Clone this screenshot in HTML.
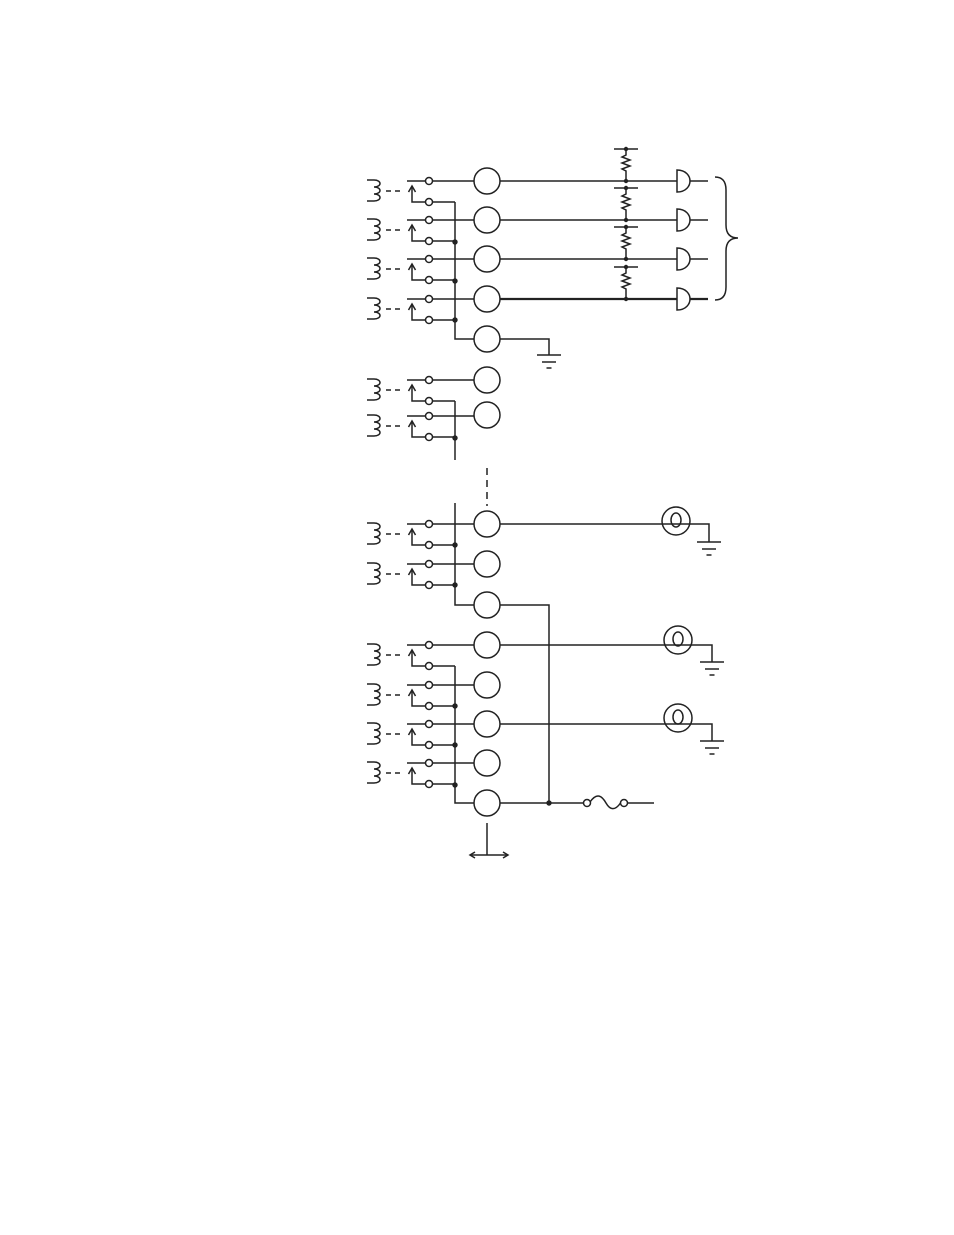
<!DOCTYPE html>
<html><head><meta charset="utf-8"><style>html,body{margin:0;padding:0;background:#fff}svg{display:block}</style></head>
<body>
<svg width="954" height="1235" viewBox="0 0 954 1235" xmlns="http://www.w3.org/2000/svg" fill="none" stroke="#222" stroke-width="1.5">
<defs>
<g id="r">
<path d="M367,-1 h7 c8,0 8,7 0,7 c8,0 8,7 0,7 c8,0 8,7 0,7 h-7"/>
<line x1="386" y1="10" x2="404" y2="10" stroke-dasharray="5,4"/>
<line x1="407" y1="0" x2="425.5" y2="0"/>
<circle cx="429" cy="0" r="3.5" fill="#fff"/>
<line x1="432.5" y1="0" x2="474" y2="0"/>
<path d="M412,5 V21 H425.5"/>
<path d="M408.5,11 L412,5 L415.5,11"/>
<circle cx="429" cy="21" r="3.5" fill="#fff"/>
<line x1="432.5" y1="21" x2="455" y2="21"/>
</g>
<g id="res"><line x1="614" y1="0" x2="638" y2="0"/><path d="M626,0 V6 l-4,2 l8,3 l-8,3 l8,3 l-8,3 l4,2 V32"/><circle cx="626" cy="0" r="2.2" fill="#222" stroke="none"/><circle cx="626" cy="32" r="2.2" fill="#222" stroke="none"/></g>
<path id="gate" d="M677,-11 V11 C686,11 690,5 690,0 C690,-5 686,-11 677,-11 Z"/>
<g id="lamp"><circle cx="0" cy="0" r="14"/><ellipse cx="0" cy="-1" rx="5" ry="7"/></g>
<g id="gnd"><line x1="-12" y1="0" x2="12" y2="0"/><line x1="-7" y1="7" x2="7" y2="7"/><line x1="-2.5" y1="13" x2="2.5" y2="13"/></g>
</defs>
<use href="#r" y="181"/><use href="#r" y="220"/><use href="#r" y="259"/><use href="#r" y="299"/>
<use href="#r" y="380"/><use href="#r" y="416"/>
<use href="#r" y="524"/><use href="#r" y="564"/>
<use href="#r" y="645"/><use href="#r" y="685"/><use href="#r" y="724"/><use href="#r" y="763"/>
<g fill="#fff">
<circle cx="487" cy="181" r="13"/><circle cx="487" cy="220" r="13"/><circle cx="487" cy="259" r="13"/><circle cx="487" cy="299" r="13"/><circle cx="487" cy="339" r="13"/>
<circle cx="487" cy="380" r="13"/><circle cx="487" cy="415" r="13"/>
<circle cx="487" cy="524" r="13"/><circle cx="487" cy="564" r="13"/><circle cx="487" cy="605" r="13"/><circle cx="487" cy="645" r="13"/><circle cx="487" cy="685" r="13"/><circle cx="487" cy="724" r="13"/><circle cx="487" cy="763" r="13"/><circle cx="487" cy="803" r="13"/>
</g>
<path d="M455,202 V339 H474"/>
<path d="M455,401 V460"/>
<path d="M455,503 V605 H474"/>
<path d="M455,666 V803 H474"/>
<g fill="#222" stroke="none">
<circle cx="455" cy="242" r="2.7"/><circle cx="455" cy="281" r="2.7"/><circle cx="455" cy="320" r="2.7"/>
<circle cx="455" cy="438" r="2.7"/>
<circle cx="455" cy="545" r="2.7"/><circle cx="455" cy="585" r="2.7"/>
<circle cx="455" cy="706" r="2.7"/><circle cx="455" cy="745" r="2.7"/><circle cx="455" cy="785" r="2.7"/>
<circle cx="549" cy="803" r="2.7"/>
</g>
<line x1="487" y1="468" x2="487" y2="506" stroke-dasharray="7,5"/>
<line x1="500" y1="181" x2="677" y2="181"/><line x1="500" y1="220" x2="677" y2="220"/><line x1="500" y1="259" x2="677" y2="259"/><line x1="500" y1="299" x2="677" y2="299" stroke-width="2.2"/>
<use href="#res" y="149"/><use href="#res" y="188"/><use href="#res" y="227"/><use href="#res" y="267"/>
<use href="#gate" y="181"/><use href="#gate" y="220"/><use href="#gate" y="259"/><use href="#gate" y="299"/>
<line x1="690" y1="181" x2="708" y2="181"/><line x1="690" y1="220" x2="708" y2="220"/><line x1="690" y1="259" x2="708" y2="259"/><line x1="690" y1="299" x2="708" y2="299" stroke-width="2.2"/>
<path d="M715,177 Q726,177 726,190 V225 Q726,238 738,238 Q726,238 726,251 V287 Q726,300 715,300"/>
<path d="M500,339 H549 V355"/><use href="#gnd" x="549" y="355"/>
<path d="M500,524 H709 V542"/><use href="#gnd" x="709" y="542"/><use href="#lamp" x="676" y="521"/>
<path d="M500,605 H549 V803"/>
<path d="M500,645 H712 V662"/><use href="#gnd" x="712" y="662"/><use href="#lamp" x="678" y="640"/>
<path d="M500,724 H712 V741"/><use href="#gnd" x="712" y="741"/><use href="#lamp" x="678" y="718"/>
<line x1="500" y1="803" x2="583.5" y2="803"/>
<circle cx="587" cy="803" r="3.5"/><circle cx="624" cy="803" r="3.5"/>
<path d="M590,802 C597,792 602,796 606,803 C610,810 615,811 620.5,803"/>
<line x1="627.5" y1="803" x2="654" y2="803"/>
<line x1="487" y1="823" x2="487" y2="855"/>
<line x1="471" y1="855" x2="508" y2="855"/>
<path d="M475,852 L470,855 L475,858 M503,852 L508,855 L503,858"/>
</svg>
</body></html>
